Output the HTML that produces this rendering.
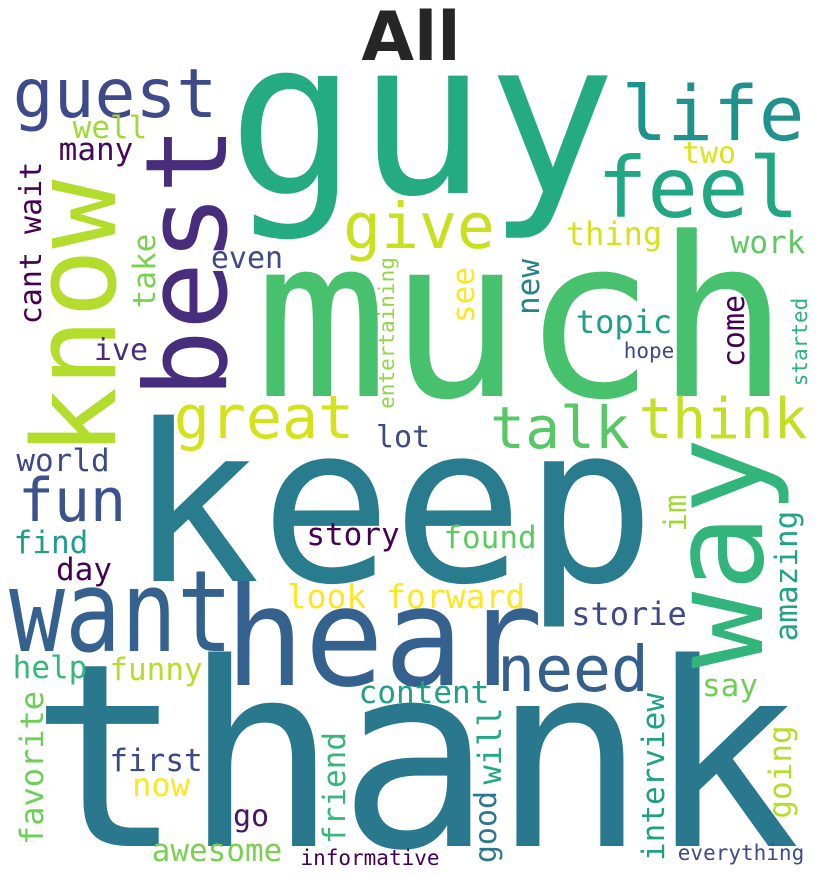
<!DOCTYPE html>
<html>
<head>
<meta charset="utf-8">
<style>
html,body{margin:0;padding:0;background:#fff;}
svg{display:block;}
text{font-family:"DejaVu Sans Mono","Liberation Mono",monospace;text-anchor:middle;}
</style>
</head>
<body>
<svg width="819" height="878" viewBox="0 0 819 878">
<rect width="819" height="878" fill="#fff"/>
<text x="411" y="60" style="font-family:'DejaVu Sans','Liberation Sans',sans-serif;font-weight:bold" font-size="68" fill="#262626">All</text>

<text x="422" y="193" font-size="215" fill="#25ab82">guy</text>
<text x="522" y="396" font-size="222" fill="#48c16e">much</text>
<text x="392" y="581" font-size="219" fill="#297b8e">keep</text>
<text x="415" y="846" font-size="256" fill="#2a788e">thank</text>
<text x="384" y="685" font-size="137" textLength="318" lengthAdjust="spacingAndGlyphs" fill="#34618d">hear</text>
<text x="121" y="651" font-size="113" textLength="224" lengthAdjust="spacingAndGlyphs" fill="#34618d">want</text>
<text x="115" y="117" font-size="68" fill="#3e4a89">guest</text>
<text x="713" y="140" font-size="76" fill="#20928c">life</text>
<text x="698" y="217" font-size="84" fill="#22a785">feel</text>
<text x="419" y="248" font-size="63" fill="#c8e020">give</text>
<text x="264" y="438" font-size="60" fill="#d5e21a">great</text>
<text x="560" y="448" font-size="58" fill="#58c765">talk</text>
<text x="723" y="438" font-size="56" fill="#c2df23">think</text>
<text x="72" y="521" font-size="60" fill="#3b528b">fun</text>
<text x="573" y="691" font-size="63" fill="#35608d">need</text>

<text transform="translate(115,318) rotate(-90)" font-size="115" fill="#b2dd2c">know</text>
<text transform="translate(226,262) rotate(-90)" font-size="113" fill="#472d7b">best</text>
<text transform="translate(762,553) rotate(-90)" font-size="128" fill="#31b57b">way</text>

<text x="110" y="138" font-size="31" fill="#a0da39">well</text>
<text x="96" y="160" font-size="31" fill="#46085c">many</text>
<text transform="translate(41,243) rotate(-90)" font-size="30" fill="#440154">cant wait</text>
<text transform="translate(155,271) rotate(-90)" font-size="31" fill="#7ad151">take</text>
<text x="247" y="268" font-size="30" fill="#3e4989">even</text>
<text x="121" y="360" font-size="30" fill="#472d7b">ive</text>
<text transform="translate(394,333) rotate(-90)" font-size="21" fill="#8fd744">entertaining</text>
<text x="403" y="447" font-size="30" fill="#3e4989">lot</text>

<text x="709" y="163" font-size="30" fill="#dde318">two</text>
<text x="614" y="245" font-size="32" fill="#d8e219">thing</text>
<text x="768" y="253" font-size="31" fill="#5ec962">work</text>
<text transform="translate(474,295) rotate(-90)" font-size="31" fill="#fde725">see</text>
<text transform="translate(539,287) rotate(-90)" font-size="31" fill="#26828e">new</text>
<text x="624" y="333" font-size="32" fill="#1f9e89">topic</text>
<text x="649" y="358" font-size="21" fill="#3e4989">hope</text>
<text transform="translate(744,331) rotate(-90)" font-size="30" fill="#440154">come</text>
<text transform="translate(807,342) rotate(-90)" font-size="21" fill="#2db27d">started</text>

<text x="63" y="471" font-size="31" fill="#3e4989">world</text>
<text x="353" y="545" font-size="31" fill="#440154">story</text>
<text x="51" y="553" font-size="31" fill="#1f9e89">find</text>
<text x="84" y="580" font-size="31" fill="#440154">day</text>
<text x="406" y="608" font-size="33" fill="#fde725">look forward</text>
<text x="50" y="678" font-size="31" fill="#35b779">help</text>
<text x="156" y="680" font-size="31" fill="#b5de2b">funny</text>
<text x="424" y="703" font-size="31" fill="#1fa187">content</text>
<text transform="translate(43,768) rotate(-90)" font-size="32" fill="#6ece58">favorite</text>
<text x="156" y="771" font-size="31" fill="#3e4989">first</text>
<text x="161" y="796" font-size="32" fill="#fde725">now</text>
<text transform="translate(345,788) rotate(-90)" font-size="31" fill="#35b779">friend</text>
<text x="251" y="826" font-size="30" fill="#481467">go</text>
<text x="217" y="861" font-size="31" fill="#7ad151">awesome</text>
<text x="370" y="865" font-size="21" fill="#440154">informative</text>

<text x="490" y="548" font-size="31" fill="#5ec962">found</text>
<text x="629" y="625" font-size="32" fill="#3e4989">storie</text>
<text transform="translate(686,513) rotate(-90)" font-size="31" fill="#a0da39">im</text>
<text transform="translate(797,576) rotate(-90)" font-size="31" fill="#20a386">amazing</text>
<text x="730" y="696" font-size="31" fill="#6ece58">say</text>
<text transform="translate(501,746) rotate(-90)" font-size="32" fill="#22a884">will</text>
<text transform="translate(496,827) rotate(-90)" font-size="30" fill="#2a788e">good</text>
<text transform="translate(664,777) rotate(-90)" font-size="31" fill="#1fa187">interview</text>
<text transform="translate(791,772) rotate(-90)" font-size="31" fill="#b5de2b">going</text>
<text x="741" y="860" font-size="21" fill="#3e4989">everything</text>
</svg>
</body>
</html>
